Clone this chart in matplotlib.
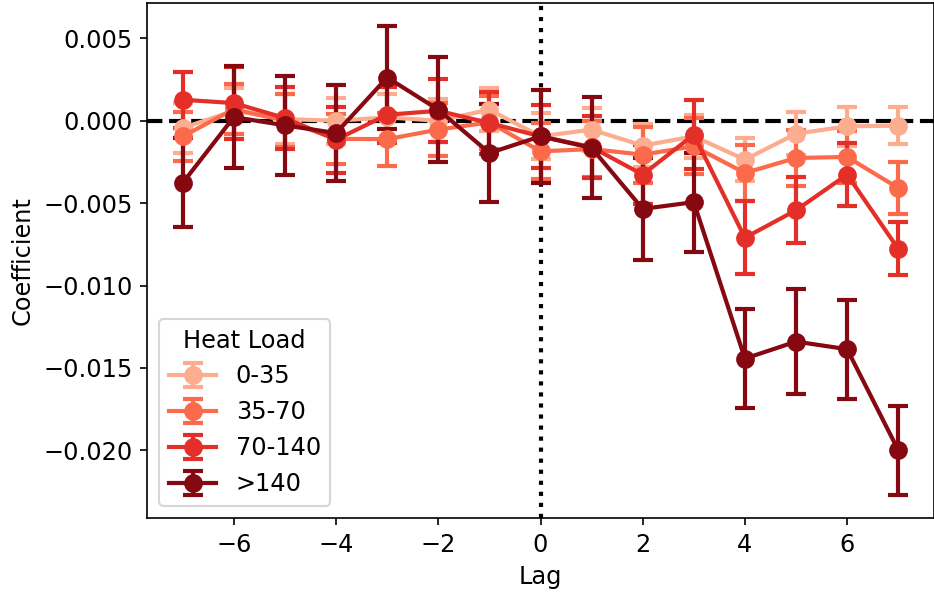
import numpy as np
import matplotlib
matplotlib.use("Agg")
import matplotlib.pyplot as plt

plt.rcParams["font.size"] = 11.5

lags = np.arange(-7, 8)
groups = ["0-35", "35-70", "70-140", ">140"]
colors = ["#fcad90", "#fb6a4a", "#e32f27", "#860811"]

# coefficients per heat load group
coef_0_35 = [-0.00044, 0.0006, 0.0001, 0.0000, 0.0002, 0.0000, 0.00067, -0.00095,
             -0.00054, -0.00151, -0.00095, -0.00236, -0.00079, -0.00034, -0.0003]
coef_35_70 = [-0.00095, 0.0007, 0.0000, -0.0011, -0.00112, -0.00054, -0.0001, -0.00186,
              -0.00172, -0.00206, -0.00155, -0.00317, -0.00226, -0.0022, -0.00408]
coef_70_140 = [0.00127, 0.00107, 0.00016, -0.00115, 0.00036, 0.0006, -0.00014, -0.00095,
               -0.0016, -0.00327, -0.00085, -0.0071, -0.00543, -0.00327, -0.00777]
coef_140 = [-0.00377, 0.00022, -0.00028, -0.00075, 0.00262, 0.00067, -0.00196, -0.00095,
            -0.00165, -0.00535, -0.00494, -0.01443, -0.0134, -0.01386, -0.01998]

# error bar half widths
err_0_35 = [0.0015, 0.0014, 0.0015, 0.0014, 0.0014, 0.0013, 0.0013, 0.0014,
            0.0013, 0.0013, 0.0013, 0.0013, 0.0013, 0.0012, 0.00114]
err_35_70 = [0.0015, 0.0015, 0.0016, 0.0015, 0.0016, 0.0016, 0.0016, 0.0017,
             0.0017, 0.0017, 0.0017, 0.0017, 0.0017, 0.0016, 0.0016]
err_70_140 = [0.0017, 0.0022, 0.0019, 0.002, 0.0017, 0.0019, 0.0019, 0.0019,
              0.0019, 0.0018, 0.0021, 0.0022, 0.002, 0.0019, 0.0016]
err_140 = [0.0027, 0.0031, 0.003, 0.0029, 0.0031, 0.0032, 0.003, 0.0028,
           0.00306, 0.0031, 0.003, 0.003, 0.0032, 0.003, 0.0027]

coefs = [coef_0_35, coef_35_70, coef_70_140, coef_140]
errs = [err_0_35, err_35_70, err_70_140, err_140]

fig = plt.figure(figsize=(934 / 150, 596 / 150), dpi=150)
ax = fig.add_axes([147 / 934, 1 - 518 / 596, 1 - 147 / 934, (518 - 3) / 596])

for g, c, y, e in zip(groups, colors, coefs, errs):
    ax.errorbar(lags, y, yerr=e, color=c, marker="o", markersize=8,
                linewidth=2, elinewidth=2, capsize=5, capthick=2, label=g)

ax.axhline(0, color="black", linestyle="--", linewidth=2, zorder=0)
ax.axvline(0, color="black", linestyle=":", linewidth=2, zorder=0)
ax.set_xlabel("Lag")
ax.set_ylabel("Coefficient")
ax.legend(title="Heat Load", loc="lower left", title_fontsize=11.5)

fig.savefig("out.png", dpi=150)
